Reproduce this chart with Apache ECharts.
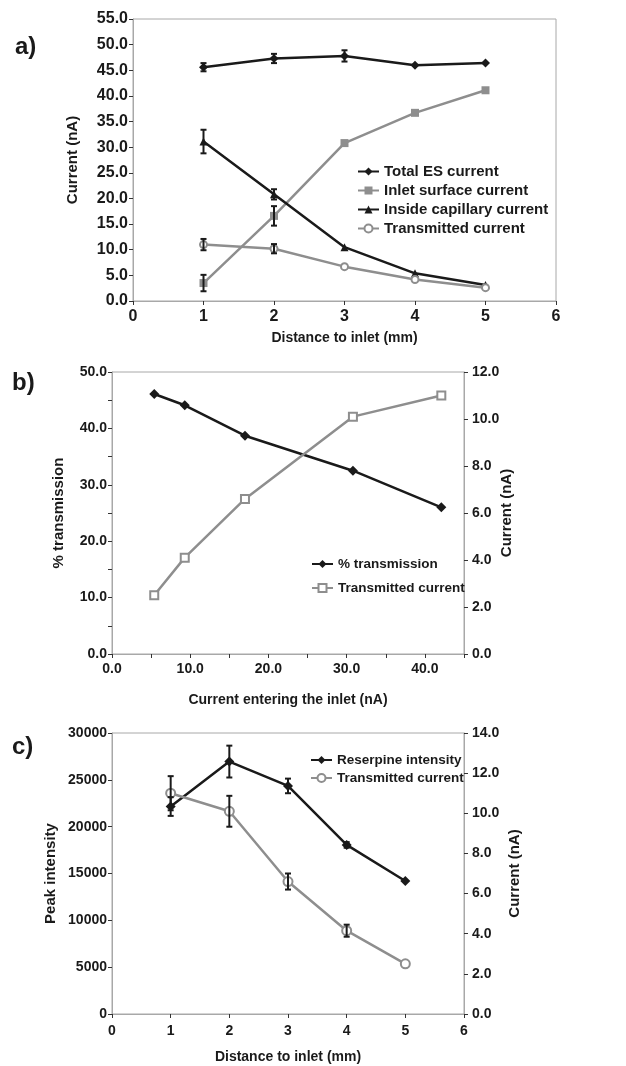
<!DOCTYPE html>
<html>
<head>
<meta charset="utf-8">
<script src="https://cdn.jsdelivr.net/npm/echarts@6/dist/echarts.min.js"></script>
<style>
  html, body { margin: 0; padding: 0; background: #fff; }
</style>
</head>
<body>
<div id="chart" style="width: 626px; height: 1066px"></div>
<script>
// panel a: currents vs distance to inlet
const distA = [1, 2, 3, 4, 5]
const totalES = [45.6, 47.3, 47.8, 46.0, 46.4]
const totalESErr = [0.8, 0.9, 1.1, 0, 0]
const inletSurface = [3.5, 16.6, 30.8, 36.7, 41.1]
const inletSurfaceErr = [1.6, 1.9, 0, 0, 0]
const insideCap = [31.1, 20.8, 10.5, 5.4, 3.1]
const insideCapErr = [2.3, 1.0, 0, 0, 0]
const transA = [11.0, 10.2, 6.7, 4.2, 2.6]
const transAErr = [1.1, 0.9, 0, 0, 0]

// panel b: transmission vs current entering the inlet
const inletCurrent = [5.4, 9.3, 17.0, 30.8, 42.1]
const pctTransmission = [46.1, 44.1, 38.7, 32.5, 26.0]
const transB = [2.5, 4.1, 6.6, 10.1, 11.0]

// panel c: peak intensity vs distance
const distC = [1, 2, 3, 4, 5]
const reserpine = [22150, 26950, 24350, 18050, 14200]
const reserpineErr = [1000, 1700, 780, 300, 0]
const transC = [11.0, 10.1, 6.6, 4.15, 2.5]
const transCErr = [0.85, 0.77, 0.4, 0.3, 0]

const FONT = 'Liberation Sans'
const BLACK = '#1a1a1a'
const GREY = '#8e8e8e'
const AXIS = '#a8a8a8'

const pairs = (xs, ys) => xs.map((x, i) => [x, ys[i]])
const triples = (xs, ys, es) => xs.map((x, i) => [x, ys[i], es[i]])

// error bar: vertical line with caps
const errBar = (params, api) => {
  const x = api.value(0), y = api.value(1), e = api.value(2)
  if (!e) return
  const top = api.coord([x, y + e])
  const bot = api.coord([x, y - e])
  const w = 3
  const style = { stroke: BLACK, lineWidth: 2 }
  return {
    type: 'group',
    children: [
      { type: 'line', shape: { x1: top[0], y1: top[1], x2: bot[0], y2: bot[1] }, style },
      { type: 'line', shape: { x1: top[0] - w, y1: top[1], x2: top[0] + w, y2: top[1] }, style },
      { type: 'line', shape: { x1: bot[0] - w, y1: bot[1], x2: bot[0] + w, y2: bot[1] }, style }
    ]
  }
}

const errSeries = (xi, yi, data) => ({
  type: 'custom', xAxisIndex: xi, yAxisIndex: yi, z: 5,
  renderItem: errBar, encode: { x: 0, y: 1 }, data, silent: true
})

const lineSeries = (name, xi, yi, data, color, symbol, size, hollow) => ({
  name, type: 'line', xAxisIndex: xi, yAxisIndex: yi, data,
  symbol, symbolSize: size, showSymbol: true,
  lineStyle: { color, width: 2.5 },
  itemStyle: hollow
    ? { color: '#fff', borderColor: color, borderWidth: 2 }
    : { color, borderColor: color, borderWidth: 0 },
  z: 3
})

const labelStyle = (size) => ({ color: BLACK, fontFamily: FONT, fontWeight: 'bold', fontSize: size })

const axisBase = (gridIndex, size) => ({
  gridIndex, type: 'value',
  nameLocation: 'middle',
  nameMoveOverlap: false,
  nameTextStyle: labelStyle(size),
  axisLine: { show: true, lineStyle: { color: AXIS, width: 1 } },
  axisTick: { show: true, inside: false, length: 4, lineStyle: { color: '#333' } },
  splitLine: { show: false },
  axisLabel: { ...labelStyle(size), margin: 6 }
})

const chart = echarts.init(document.getElementById('chart'), null, { renderer: 'canvas' })

const option = {
  animation: false,
  backgroundColor: '#fff',
  title: [
    { text: 'a)', left: 10, top: 30, textStyle: { ...labelStyle(24) } },
    { text: 'b)', left: 7, top: 366, textStyle: { ...labelStyle(24) } },
    { text: 'c)', left: 7, top: 730, textStyle: { ...labelStyle(24) } }
  ],
  grid: [
    { left: 133, top: 19, width: 423, height: 282, show: true, borderColor: AXIS, borderWidth: 1 },
    { left: 112, top: 372, width: 352, height: 282, show: true, borderColor: AXIS, borderWidth: 1 },
    { left: 112, top: 733, width: 352, height: 281, show: true, borderColor: AXIS, borderWidth: 1 }
  ],
  legend: [
    {
      data: ['Total ES current', 'Inlet surface current', 'Inside capillary current', 'Transmitted current'],
      orient: 'vertical', left: 352, top: 159, itemWidth: 21, itemHeight: 10, itemGap: 4,
      textStyle: labelStyle(15), formatter: n => n.trim()
    },
    {
      data: ['% transmission', 'Transmitted current '],
      orient: 'vertical', left: 306, top: 552, itemWidth: 21, itemHeight: 10, itemGap: 10,
      textStyle: labelStyle(13.5), formatter: n => n.trim()
    },
    {
      data: ['Reserpine intensity', 'Transmitted current  '],
      orient: 'vertical', left: 305, top: 748, itemWidth: 21, itemHeight: 10, itemGap: 4,
      textStyle: labelStyle(13.5), formatter: n => n.trim()
    }
  ],
  xAxis: [
    {
      ...axisBase(0, 14), min: 0, max: 6, interval: 1,
      name: 'Distance to inlet (mm)', nameGap: 30,
      axisLabel: { ...labelStyle(16), margin: 8 }
    },
    {
      ...axisBase(1, 14), min: 0, max: 45, interval: 5,
      name: 'Current entering the inlet (nA)', nameGap: 39,
      axisLabel: { ...labelStyle(14), margin: 8, formatter: v => (v % 10 === 0 && v < 45 ? v.toFixed(1) : '') }
    },
    {
      ...axisBase(2, 14), min: 0, max: 6, interval: 1,
      name: 'Distance to inlet (mm)', nameGap: 36,
      axisLabel: { ...labelStyle(14), margin: 10 }
    }
  ],
  yAxis: [
    {
      ...axisBase(0, 15), min: 0, max: 55, interval: 5,
      name: 'Current (nA)', nameGap: 53,
      axisLabel: { ...labelStyle(16), margin: 5, formatter: v => v.toFixed(1) }
    },
    {
      ...axisBase(1, 15), min: 0, max: 50, interval: 5,
      name: '% transmission', nameGap: 46,
      axisLabel: { ...labelStyle(14), margin: 5, formatter: v => (v % 10 === 0 ? v.toFixed(1) : '') }
    },
    {
      ...axisBase(1, 15), position: 'right', min: 0, max: 12, interval: 2,
      name: 'Current (nA)', nameGap: 35,
      axisLabel: { ...labelStyle(14), margin: 8, formatter: v => v.toFixed(1) }
    },
    {
      ...axisBase(2, 15), min: 0, max: 30000, interval: 5000,
      name: 'Peak intensity', nameGap: 54,
      axisLabel: { ...labelStyle(14), margin: 5, formatter: v => String(v) }
    },
    {
      ...axisBase(2, 15), position: 'right', min: 0, max: 14, interval: 2,
      name: 'Current (nA)', nameGap: 43,
      axisLabel: { ...labelStyle(14), margin: 8, formatter: v => v.toFixed(1) }
    }
  ],
  series: [
    // panel a
    lineSeries('Total ES current', 0, 0, pairs(distA, totalES), BLACK, 'diamond', 9),
    lineSeries('Inlet surface current', 0, 0, pairs(distA, inletSurface), GREY, 'rect', 8),
    lineSeries('Inside capillary current', 0, 0, pairs(distA, insideCap), BLACK, 'triangle', 8),
    lineSeries('Transmitted current', 0, 0, pairs(distA, transA), GREY, 'circle', 7, true),
    errSeries(0, 0, triples(distA, totalES, totalESErr)),
    errSeries(0, 0, triples(distA, inletSurface, inletSurfaceErr)),
    errSeries(0, 0, triples(distA, insideCap, insideCapErr)),
    errSeries(0, 0, triples(distA, transA, transAErr)),
    // panel b
    lineSeries('% transmission', 1, 1, pairs(inletCurrent, pctTransmission), BLACK, 'diamond', 10),
    lineSeries('Transmitted current ', 1, 2, pairs(inletCurrent, transB), GREY, 'rect', 8, true),
    // panel c
    lineSeries('Reserpine intensity', 2, 3, pairs(distC, reserpine), BLACK, 'diamond', 10),
    lineSeries('Transmitted current  ', 2, 4, pairs(distC, transC), GREY, 'circle', 9, true),
    errSeries(2, 3, triples(distC, reserpine, reserpineErr)),
    errSeries(2, 4, triples(distC, transC, transCErr))
  ]
}

chart.setOption(option)
</script>
</body>
</html>
